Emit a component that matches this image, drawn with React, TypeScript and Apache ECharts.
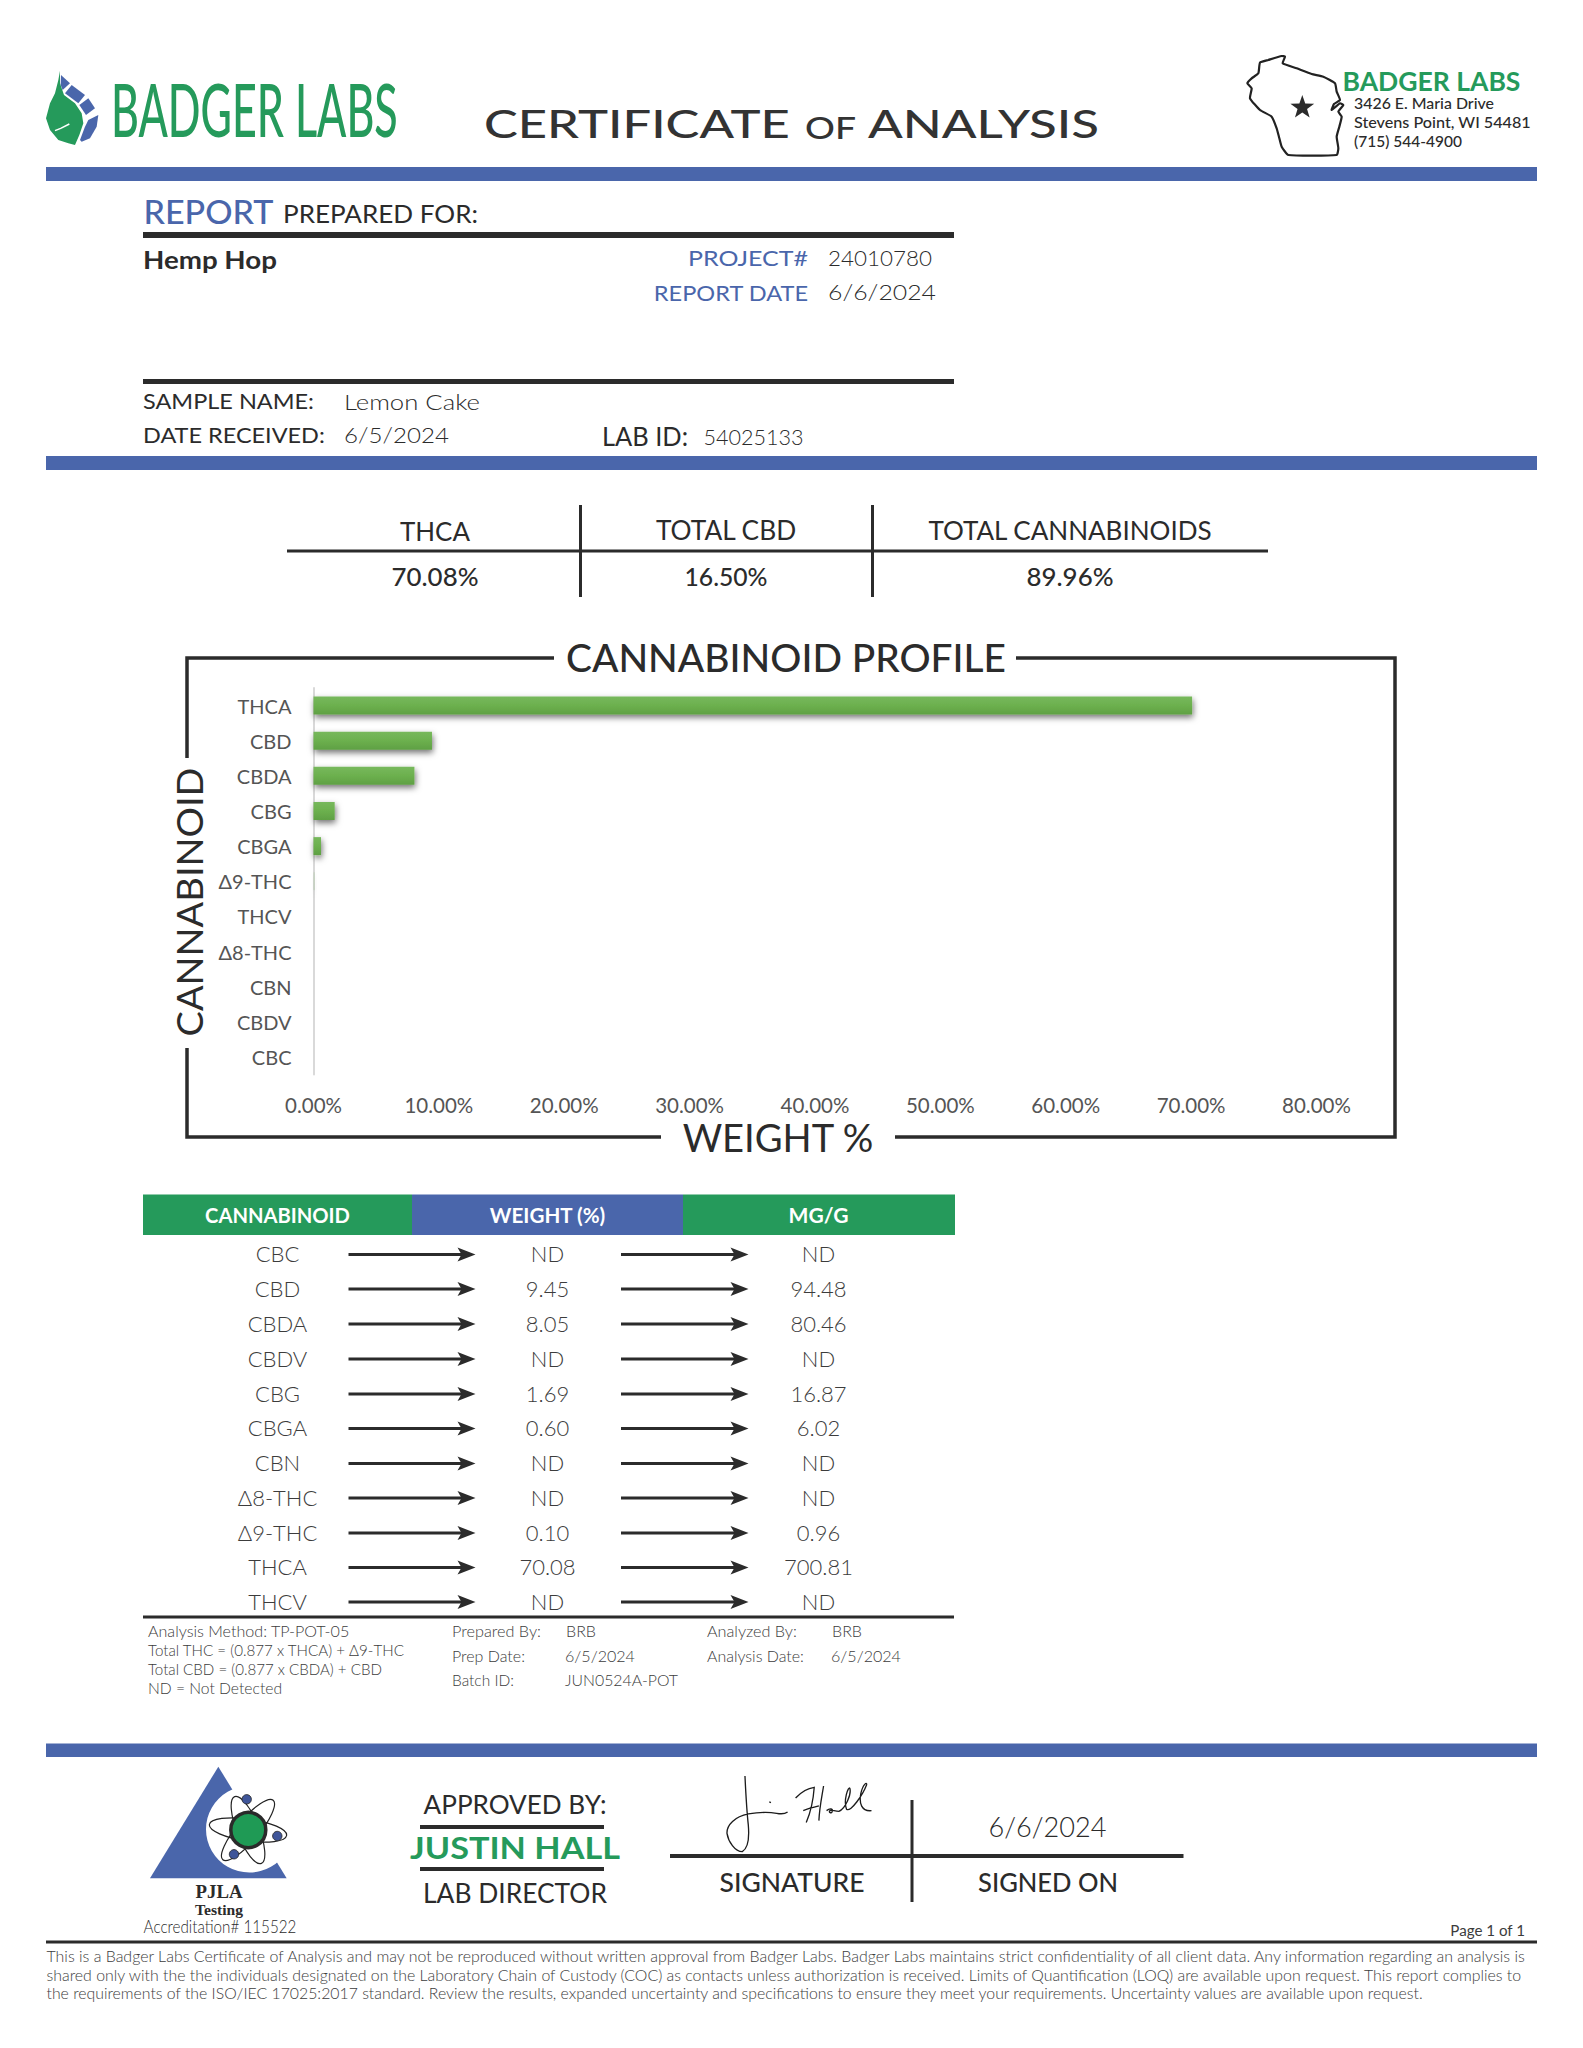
import React, { useEffect, useRef } from "react";
import * as echarts from "echarts";

// ---------- chart data ----------
const chartCategories = ["THCA", "CBD", "CBDA", "CBG", "CBGA", "Δ9-THC", "THCV", "Δ8-THC", "CBN", "CBDV", "CBC"];
const chartWeights = [70.08, 9.45, 8.05, 1.69, 0.6, 0.1, 0, 0, 0, 0, 0];

// ---------- table data ----------
const tableNames = ["CBC", "CBD", "CBDA", "CBDV", "CBG", "CBGA", "CBN", "Δ8-THC", "Δ9-THC", "THCA", "THCV"];
const tableWeights = ["ND", "9.45", "8.05", "ND", "1.69", "0.60", "ND", "ND", "0.10", "70.08", "ND"];
const tableMgG = ["ND", "94.48", "80.46", "ND", "16.87", "6.02", "ND", "ND", "0.96", "700.81", "ND"];
const tableRowY = [1253.5, 1288, 1323, 1358, 1393, 1427.5, 1462.5, 1497, 1532, 1566.5, 1601];

const summaryHeads = ["THCA", "TOTAL CBD", "TOTAL CANNABINOIDS"];
const summaryValues = ["70.08%", "16.50%", "89.96%"];
const disclaimer = [
  "This is a Badger Labs Certificate of Analysis and may not be reproduced without written approval from Badger Labs. Badger Labs maintains strict confidentiality of all client data. Any information regarding an analysis is",
  "shared only with the the individuals designated on the Laboratory Chain of Custody (COC) as contacts unless authorization is received. Limits of Quantification (LOQ) are available upon request. This report complies to",
  "the requirements of the ISO/IEC 17025:2017 standard. Review the results, expanded uncertainty and specifications to ensure they meet your requirements. Uncertainty values are available upon request.",
];

const BLUE = "#4a66ab";
const GREEN = "#259a5b";
const INK = "#2b2b2b";
const THIN = "#3c3c3c";
const FONT = "Lato";

const measureCtx = document.createElement("canvas").getContext("2d")!;

type TO = { w?: number; size?: number; weight?: number | string; color?: string; align?: string; family?: string; rot?: number };
function T(text: string, x: number, y: number, o: TO = {}) {
  const size = o.size ?? 20;
  const weight = o.weight ?? 400;
  const family = o.family ?? FONT;
  let scaleX = 1;
  if (o.w) {
    measureCtx.font = `${weight} ${size}px "${family}"`;
    scaleX = o.w / measureCtx.measureText(text).width;
  }
  return {
    type: "text",
    x,
    y,
    scaleX,
    rotation: o.rot ?? 0,
    style: {
      text,
      fontSize: size,
      fontWeight: weight,
      fontFamily: family,
      fill: o.color ?? INK,
      textAlign: o.align ?? "left",
      textVerticalAlign: "middle",
    },
  };
}
const rect = (x: number, y: number, w: number, h: number, fill: string) => ({
  type: "rect",
  shape: { x, y, width: w, height: h },
  style: { fill },
});
const line = (x1: number, y1: number, x2: number, y2: number, lw = 3, stroke = INK) => ({
  type: "line",
  shape: { x1, y1, x2, y2 },
  style: { stroke, lineWidth: lw },
});
const arrow = (x1: number, x2: number, y: number) => [
  line(x1, y, x2 - 10, y, 3, INK),
  {
    type: "polygon",
    shape: { points: [[x2 - 18, y - 7], [x2, y], [x2 - 18, y + 7], [x2 - 14, y]] },
    style: { fill: INK },
  },
];
// logo coordinates helpers (measured on 3x crops of the picture)
const crop = (x0: number, y0: number) => (p: number[][]) => p.map(([a, b]) => [x0 + a / 3, y0 + b / 3]);
const leaf = crop(40, 60);
const wi = crop(1240, 50);
const pj = crop(140, 1760);
const star = (cx: number, cy: number, r: number) => {
  const pts: number[][] = [];
  for (let i = 0; i < 10; i++) {
    const rr = i % 2 ? r * 0.4 : r;
    const a = -Math.PI / 2 + (i * Math.PI) / 5;
    pts.push([cx + rr * Math.cos(a), cy + rr * Math.sin(a)]);
  }
  return pts;
};

echarts.graphic.registerShape(
  "signature",
  echarts.graphic.extendPath(
    "M90 18 C92 60 95 120 100 165 C103 200 100 235 82 245 C60 245 40 215 36 190 C35 165 60 140 100 132 C130 127 155 125 185 130 C200 133 210 132 218 126 " +
      "M163 96 L168 98 " +
      "M242 84 C255 70 275 55 298 52 C296 80 288 125 274 158 M265 122 C280 116 295 112 312 108 M326 48 C322 75 314 110 312 152 " +
      "M335 122 C345 114 356 116 352 125 C349 131 340 128 345 122 C352 118 358 124 372 124 C392 116 410 72 405 55 C400 48 385 92 395 118 C408 128 445 72 455 45 C458 35 445 40 438 70 C432 100 440 125 470 122",
    {}
  )
);

function buildGraphics() {
  const g: any[] = [];
  // ---- header ----
  g.push({ type: "polygon", shape: { points: leaf([[60, 32], [60, 70], [72, 105], [105, 130], [125, 160], [130, 190], [118, 225], [105, 255], [85, 250], [55, 240], [30, 210], [18, 175], [30, 130], [45, 100], [55, 60]]) }, style: { fill: GREEN } });
  g.push({ type: "polyline", shape: { points: leaf([[88, 192], [62, 205], [45, 212]]) }, style: { fill: "none", stroke: "#fff", lineWidth: 1.5 } });
  [
    [[63, 45], [90, 70], [68, 90], [62, 75]],
    [[95, 75], [135, 105], [115, 130], [75, 100]],
    [[145, 115], [165, 145], [138, 165], [118, 135]],
    [[175, 165], [170, 200], [150, 235], [125, 245], [120, 240], [135, 200], [145, 180]],
  ].forEach((p) => g.push({ type: "polygon", shape: { points: leaf(p) }, style: { fill: BLUE } }));
  g.push(T("BADGER LABS", 111, 108, { size: 74, w: 287, color: GREEN, weight: 500 }));
  g.push(T("CERTIFICATE", 484, 124, { size: 38, w: 306, weight: 500, color: "#333333" }));
  g.push(T("OF", 805, 127, { size: 30, w: 51, weight: 500, color: "#333333" }));
  g.push(T("ANALYSIS", 868, 124, { size: 38, w: 231, weight: 500, color: "#333333" }));

  g.push({
    type: "polygon",
    shape: {
      points: wi([[60, 38], [85, 30], [125, 18], [135, 20], [128, 40], [170, 55], [215, 72], [250, 80], [285, 100], [290, 125], [300, 150], [282, 162], [275, 180], [300, 160], [310, 165], [295, 185], [305, 200], [298, 230], [290, 260], [295, 295], [290, 315], [145, 315], [125, 290], [118, 265], [110, 235], [95, 200], [60, 180], [30, 145], [35, 115], [22, 100], [35, 85], [55, 70]]),
      smooth: 0.15,
    },
    style: { fill: "none", stroke: "#222", lineWidth: 2.2 },
  });
  g.push({ type: "polygon", shape: { points: star(1302.3, 107.5, 12.5) }, style: { fill: INK } });
  g.push(T("BADGER LABS", 1342.5, 81, { size: 26, w: 178, color: GREEN, weight: 700 }));
  g.push(T("3426 E. Maria Drive", 1354, 102.5, { size: 16, w: 140, weight: 500 }));
  g.push(T("Stevens Point, WI 54481", 1354, 121.5, { size: 16, w: 177, weight: 500 }));
  g.push(T("(715) 544-4900", 1354, 140, { size: 16, w: 108, weight: 500 }));

  g.push(rect(46, 167, 1491, 14, BLUE));
  g.push(T("REPORT", 143.5, 211, { size: 33, w: 130, color: BLUE, weight: 500 }));
  g.push(T("PREPARED FOR:", 283, 213.5, { size: 25, w: 195 }));
  g.push(rect(143, 232, 811, 6, INK));
  g.push(T("Hemp Hop", 143, 260, { size: 24, w: 134, weight: 700 }));
  g.push(T("PROJECT#", 808, 258, { size: 22, w: 120, color: BLUE, align: "right" }));
  g.push(T("24010780", 828, 258, { size: 22, w: 104, weight: 300 }));
  g.push(T("REPORT DATE", 808, 292, { size: 22, w: 155, color: BLUE, align: "right" }));
  g.push(T("6/6/2024", 828, 292, { size: 22, w: 108, weight: 300 }));
  g.push(rect(143, 379, 811, 5, INK));
  g.push(T("SAMPLE NAME:", 143, 401, { size: 22, w: 171 }));
  g.push(T("Lemon Cake", 344, 401, { size: 22, w: 136, weight: 300 }));
  g.push(T("DATE RECEIVED:", 143, 434.5, { size: 22, w: 182 }));
  g.push(T("6/5/2024", 344, 434.5, { size: 22, w: 105, weight: 300 }));
  g.push(T("LAB ID:", 602, 435.5, { size: 26, w: 86 }));
  g.push(T("54025133", 703.5, 436.5, { size: 22, w: 100, weight: 300 }));
  g.push(rect(46, 456, 1491, 14, BLUE));

  // ---- summary ----
  g.push(line(287, 551, 1268, 551, 3));
  g.push(line(580.5, 505, 580.5, 597, 3));
  g.push(line(872.5, 505, 872.5, 597, 3));
  const sumX = [435, 726, 1070];
  const sumW = [70, 141, 284];
  summaryHeads.forEach((s, i) => g.push(T(s, sumX[i], 530.5, { size: 26, w: sumW[i], align: "center" })));
  const valW = [87, 83, 87];
  summaryValues.forEach((s, i) => g.push(T(s, sumX[i], 576, { size: 25, w: valW[i], align: "center", weight: 500 })));

  // ---- chart frame ----
  g.push({ type: "polyline", shape: { points: [[554, 658], [187, 658], [187, 758]] }, style: { fill: "none", stroke: INK, lineWidth: 3.5 } });
  g.push({ type: "polyline", shape: { points: [[187, 1048], [187, 1137], [661, 1137]] }, style: { fill: "none", stroke: INK, lineWidth: 3.5 } });
  g.push({ type: "polyline", shape: { points: [[1016, 658], [1395, 658], [1395, 1137], [895, 1137]] }, style: { fill: "none", stroke: INK, lineWidth: 3.5 } });
  g.push(T("CANNABINOID PROFILE", 786, 657, { size: 38, w: 440, align: "center", weight: 500 }));
  g.push(T("WEIGHT %", 778, 1137, { size: 38, w: 192, align: "center" }));
  g.push(T("CANNABINOID", 189, 902, { size: 37, w: 269, align: "center", rot: Math.PI / 2 }));

  // ---- table ----
  g.push(rect(143, 1194.5, 269, 40.5, GREEN));
  g.push(rect(412, 1194.5, 271, 40.5, BLUE));
  g.push(rect(683, 1194.5, 272, 40.5, GREEN));
  const colX = [277.5, 547.5, 818.5];
  g.push(T("CANNABINOID", colX[0], 1215.5, { size: 20, w: 145, color: "#fff", align: "center", weight: 700 }));
  g.push(T("WEIGHT (%)", colX[1], 1215.5, { size: 20, w: 116, color: "#fff", align: "center", weight: 700 }));
  g.push(T("MG/G", colX[2], 1215.5, { size: 20, w: 60, color: "#fff", align: "center", weight: 700 }));
  tableNames.forEach((n, i) => {
    const y = tableRowY[i];
    g.push(T(n, colX[0], y, { size: 22, weight: 300, color: THIN, align: "center" }));
    g.push(T(tableWeights[i], colX[1], y, { size: 22, weight: 300, color: THIN, align: "center" }));
    g.push(T(tableMgG[i], colX[2], y, { size: 22, weight: 300, color: THIN, align: "center" }));
    g.push(...arrow(348.5, 475.5, y + 1));
    g.push(...arrow(621, 748.5, y + 1));
  });
  g.push(rect(143, 1615.5, 811, 3, INK));
  const note = { size: 15, weight: 300, color: THIN };
  g.push(T("Analysis Method: TP-POT-05", 148, 1631.5, { ...note, w: 202 }));
  g.push(T("Total THC = (0.877 x THCA) + Δ9-THC", 148, 1650.5, { ...note, w: 257 }));
  g.push(T("Total CBD = (0.877 x CBDA) + CBD", 148, 1669, { ...note, w: 234 }));
  g.push(T("ND = Not Detected", 148, 1688, { ...note, w: 134 }));
  g.push(T("Prepared By:", 452, 1631.5, { ...note, w: 89 }));
  g.push(T("BRB", 566, 1631.5, { ...note, w: 30 }));
  g.push(T("Prep Date:", 452, 1656.5, { ...note, w: 73 }));
  g.push(T("6/5/2024", 565, 1656.5, { ...note, w: 70 }));
  g.push(T("Batch ID:", 452, 1680.5, { ...note, w: 62 }));
  g.push(T("JUN0524A-POT", 565, 1680.5, { ...note, w: 113 }));
  g.push(T("Analyzed By:", 707, 1631.5, { ...note, w: 90 }));
  g.push(T("BRB", 832, 1631.5, { ...note, w: 30 }));
  g.push(T("Analysis Date:", 707, 1656.5, { ...note, w: 97 }));
  g.push(T("6/5/2024", 831, 1656.5, { ...note, w: 70 }));

  // ---- footer ----
  g.push(rect(46, 1743.5, 1491, 13.5, BLUE));
  g.push({ type: "polygon", shape: { points: pj([[235, 20], [30, 355], [440, 355]]) }, style: { fill: BLUE } });
  g.push({ type: "circle", shape: { cx: 249.3, cy: 1829.3, r: 43.3 }, style: { fill: "#fff" } });
  const orbit = (rot: number, rx: number) => ({ type: "ellipse", x: 248, y: 1830, rotation: rot, shape: { cx: 0, cy: 0, rx, ry: 11 }, style: { fill: "none", stroke: "#222", lineWidth: 1.2 } });
  g.push(orbit(-0.14, 39), orbit(-1.19, 36), orbit(0.87, 39));
  g.push({ type: "circle", shape: { cx: 248.3, cy: 1830, r: 17.5 }, style: { fill: "#1f9a55", stroke: "#2a2a2a", lineWidth: 3.5 } });
  [[246.7, 1799.3], [277.3, 1836], [234, 1854.3]].forEach(([cx, cy]) =>
    g.push({ type: "circle", shape: { cx, cy, r: 4.7 }, style: { fill: "#3f5599", stroke: "#222", lineWidth: 0.8 } })
  );
  g.push(T("PJLA", 219, 1891, { size: 19, weight: 700, family: "Liberation Serif", align: "center", w: 47 }));
  g.push(T("Testing", 219, 1909.5, { size: 15, weight: 700, family: "Liberation Serif", align: "center", w: 48 }));
  g.push(T("Accreditation# 115522", 220, 1926.5, { size: 17, weight: 300, align: "center", w: 153 }));

  g.push(T("APPROVED BY:", 515, 1804, { size: 27, weight: 400, align: "center", w: 183 }));
  g.push(rect(420, 1825, 184, 4, INK));
  g.push(T("JUSTIN HALL", 515, 1847, { size: 31, weight: 700, align: "center", w: 210, color: GREEN }));
  g.push(rect(420, 1867, 184, 4, INK));
  g.push(T("LAB DIRECTOR", 515, 1893, { size: 27, weight: 400, align: "center", w: 184 }));

  g.push({ type: "signature", x: 715, y: 1770, scaleX: 1 / 3, scaleY: 1 / 3, style: { fill: "none", stroke: "#1c1c1c", lineWidth: 4 } });
  g.push(rect(670, 1854, 513.5, 4, INK));
  g.push(line(912, 1800, 912, 1902, 3));
  g.push(T("SIGNATURE", 792, 1882, { size: 26, weight: 500, align: "center", w: 145 }));
  g.push(T("SIGNED ON", 1048, 1882, { size: 26, weight: 500, align: "center", w: 140 }));
  g.push(T("6/6/2024", 1047.5, 1827, { size: 27, weight: 300, align: "center", w: 118 }));
  g.push(T("Page 1 of 1", 1525, 1930, { size: 15, weight: 400, align: "right", w: 75, color: THIN }));
  g.push(rect(46, 1940.5, 1491, 3, INK));
  const dw = [1485, 1479, 1380];
  disclaimer.forEach((s, i) => g.push(T(s, 46.5, 1956 + 18.7 * i, { size: 15, weight: 300, color: THIN, w: dw[i] })));
  return g;
}

export default function App() {
  const ref = useRef<HTMLDivElement>(null);
  useEffect(() => {
    const chart = echarts.init(ref.current!, undefined, { renderer: "svg" });
    chart.setOption({
      animation: false,
      backgroundColor: "#ffffff",
      grid: { left: 313.5, top: 688, width: 1003, height: 386.5, containLabel: false },
      xAxis: {
        type: "value",
        min: 0,
        max: 80,
        interval: 10,
        axisLine: { show: false },
        axisTick: { show: false },
        splitLine: { show: false },
        axisLabel: {
          margin: 20,
          fontFamily: FONT,
          fontSize: 20.5,
          color: "#555555",
          formatter: (v: number) => `${v.toFixed(2)}%`,
        },
      },
      yAxis: {
        type: "category",
        inverse: true,
        data: chartCategories,
        axisLine: { show: true, lineStyle: { color: "#d9d9d9", width: 2 } },
        axisTick: { show: false },
        axisLabel: { margin: 22, fontFamily: FONT, fontSize: 20, color: "#555555", padding: [0, 0, 2, 0] },
      },
      series: [
        {
          type: "bar",
          data: chartWeights.map((v) => (v > 0 && v < 0.2 ? { value: v, itemStyle: { opacity: 0.2 } } : v)),
          barWidth: 18,
          itemStyle: {
            color: {
              type: "linear", x: 0, y: 0, x2: 0, y2: 1,
              colorStops: [
                { offset: 0, color: "#77b85c" },
                { offset: 0.5, color: "#6cb04e" },
                { offset: 1, color: "#5fa043" },
              ],
            },
            shadowColor: "rgba(0,0,0,0.55)",
            shadowBlur: 6,
            shadowOffsetX: 1,
            shadowOffsetY: 3,
          },
        },
      ],
      graphic: { elements: buildGraphics() },
    });
    return () => chart.dispose();
  }, []);
  return <div ref={ref} style={{ position: "absolute", left: 0, top: 0, width: 1583, height: 2048 }} />;
}
